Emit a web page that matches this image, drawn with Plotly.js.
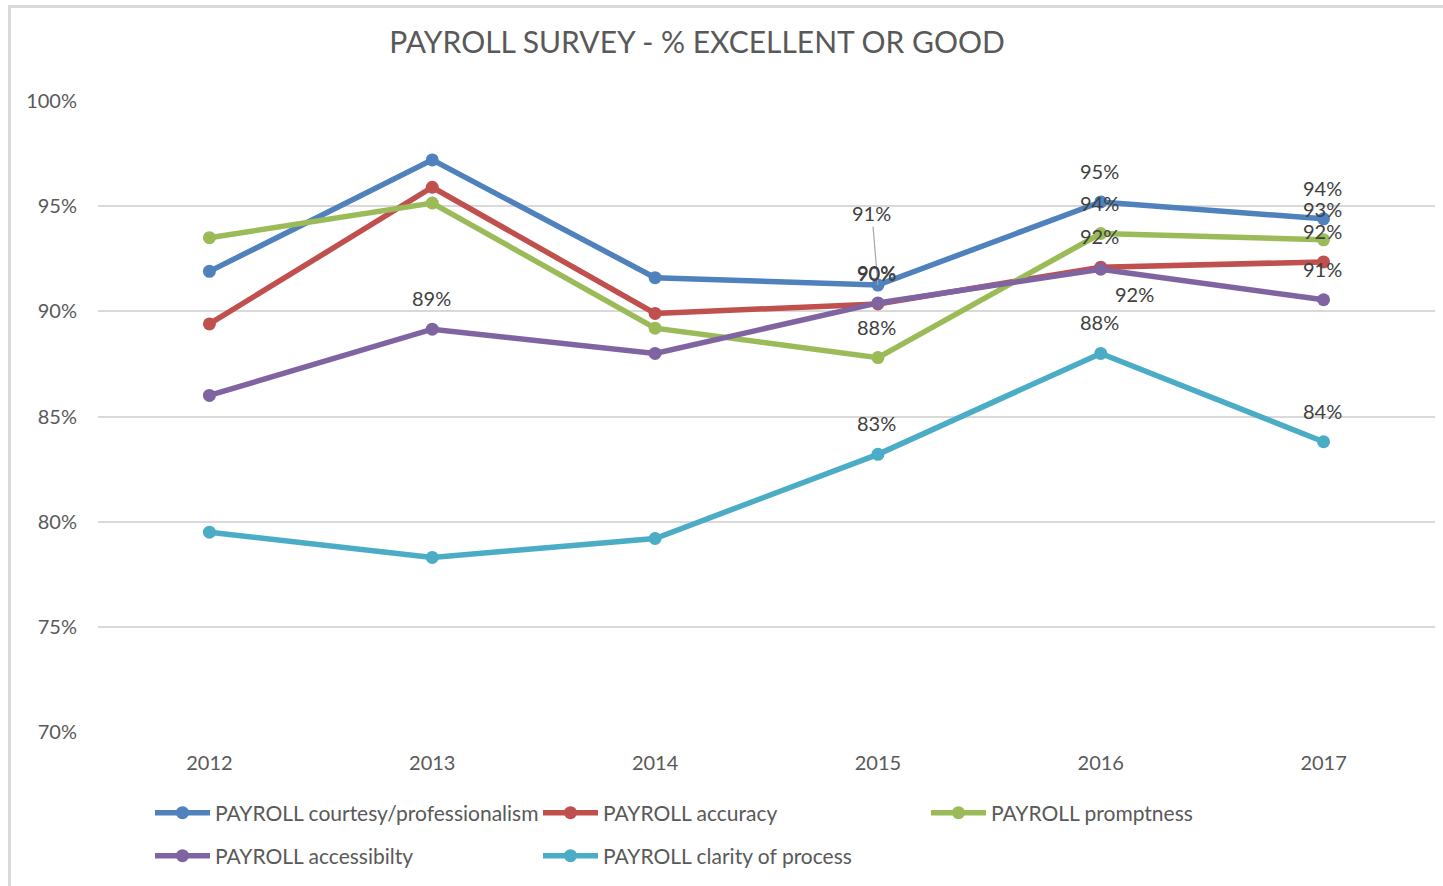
<!DOCTYPE html>
<html>
<head>
<meta charset="utf-8">
<script src="https://cdn.plot.ly/plotly-3.0.1.min.js"></script>
<style>
  html, body { margin: 0; padding: 0; background: #fff; }
  #frame { position: absolute; left: 8px; top: 5px; width: 1500px; height: 950px;
           border-left: 3px solid #d9d9d9; border-top: 3px solid #d9d9d9; box-sizing: border-box; }
  #chart { position: absolute; left: 0; top: 0; width: 1443px; height: 886px; }
</style>
</head>
<body>
<div id="frame"></div>
<div id="chart"></div>
<script>
// ---- data ----
const years = ['2012', '2013', '2014', '2015', '2016', '2017'];
const seriesNames = [
  'PAYROLL courtesy/professionalism',
  'PAYROLL accuracy',
  'PAYROLL promptness',
  'PAYROLL accessibilty',
  'PAYROLL clarity of process'
];
const courtesy      = [91.9, 97.2, 91.6, 91.25, 95.2, 94.4];
const accuracy      = [89.4, 95.9, 89.9, 90.35, 92.1, 92.35];
const promptness    = [93.5, 95.15, 89.2, 87.8, 93.7, 93.4];
const accessibility = [86.0, 89.15, 88.0, 90.4, 92.0, 90.55];
const clarity       = [79.5, 78.3, 79.2, 83.2, 88.0, 83.8];
const yTickVals     = [70, 75, 80, 85, 90, 95, 100];

// which points carry a data label (indices into years)
const labelled = [
  [3, 4, 5],
  [3, 4, 5],
  [3, 4, 5],
  [1, 3, 4, 5],
  [3, 4, 5]
];

// ---- styles ----
const colors = ['#4f81bd', '#c0504d', '#9bbb59', '#8064a2', '#4bacc6'];
const allSeries = [courtesy, accuracy, promptness, accessibility, clarity];
const legendOf = ['legend', 'legend', 'legend', 'legend2', 'legend2'];
const FONT = 'Lato, "Open Sans", sans-serif';
const TXT = '#595959';
// label offsets (screen pixels, +dy = down) per series / year index
const labelOffsets = {
  '0-3': {dx: -6, dy: -72, leader: true},
  '3-4': {dx: 34, dy: 25}
};

const traces = allSeries.map((vals, i) => ({
  type: 'scatter',
  mode: 'lines+markers',
  name: seriesNames[i],
  legend: legendOf[i],
  x: years,
  y: vals,
  line: {color: colors[i], width: 5.5},
  marker: {color: colors[i], size: 13},
  hoverinfo: 'x+y+name'
}));

const annotations = [];
labelled.forEach((idxs, s) => {
  idxs.forEach(k => {
    const v = allSeries[s][k];
    const off = labelOffsets[s + '-' + k] || {dx: -1, dy: -31};
    const base = {
      x: k, y: v, xref: 'x', yref: 'y',
      text: Math.round(v) + '%',
      font: {family: FONT, size: 20, color: '#404040'}
    };
    if (off.leader) {
      Object.assign(base, {showarrow: true, arrowhead: 0, arrowwidth: 1.2,
        arrowcolor: '#a6a6a6', ax: off.dx, ay: off.dy, standoff: 0});
    } else {
      Object.assign(base, {showarrow: false, xshift: off.dx, yshift: -off.dy});
    }
    annotations.push(base);
  });
});

const legendCommon = {
  orientation: 'h',
  xref: 'container', xanchor: 'left',
  yref: 'container', yanchor: 'middle',
  entrywidth: 318, entrywidthmode: 'pixels',
  itemwidth: 55,
  font: {family: FONT, size: 21, color: TXT},
  bgcolor: 'rgba(0,0,0,0)'
};

const layout = {
  width: 1443, height: 886,
  paper_bgcolor: 'rgba(0,0,0,0)',
  plot_bgcolor: 'rgba(0,0,0,0)',
  margin: {l: 98, r: 8, t: 101, b: 154, pad: 0},
  title: {
    text: 'PAYROLL SURVEY - % EXCELLENT OR GOOD',
    font: {family: FONT, size: 30, color: TXT},
    xref: 'container', x: 697 / 1443, xanchor: 'center',
    yref: 'container', y: 1 - 42 / 886, yanchor: 'middle'
  },
  xaxis: {
    type: 'category',
    range: [-0.5, 5.5],
    showgrid: false, zeroline: false, showline: false,
    ticks: '', ticklabelstandoff: 17,
    tickfont: {family: FONT, size: 20, color: TXT},
    fixedrange: true
  },
  yaxis: {
    range: [70, 100],
    tickvals: yTickVals,
    ticktext: yTickVals.map(v => v + '%'),
    showgrid: true, gridcolor: '#d9d9d9', gridwidth: 2,
    zeroline: false, showline: false, ticks: '',
    ticklabelstandoff: 20,
    tickfont: {family: FONT, size: 20, color: TXT},
    fixedrange: true
  },
  showlegend: true,
  legend: Object.assign({}, legendCommon, {x: 150 / 1443, y: 1 - 813 / 886}),
  legend2: Object.assign({}, legendCommon, {x: 150 / 1443, y: 1 - 856 / 886}),
  annotations: annotations
};

Plotly.newPlot('chart', traces, layout, {displayModeBar: false, staticPlot: true});
</script>
</body>
</html>
